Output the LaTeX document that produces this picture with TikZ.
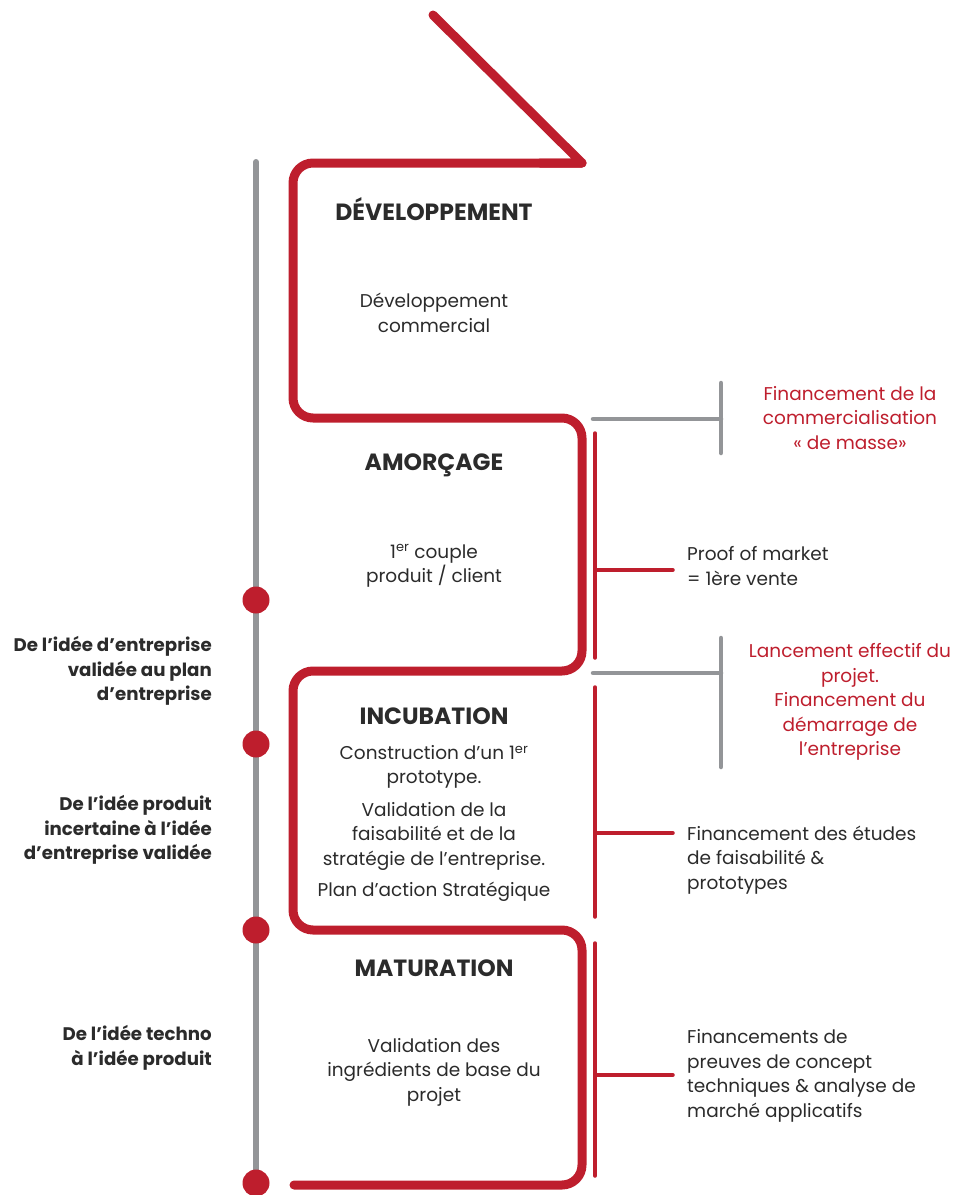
\documentclass[tikz,border=0pt]{standalone}
\usepackage{fontspec}
\setmainfont{Poppins}
\usepackage{tikz}
\usetikzlibrary{backgrounds}

\definecolor{jalonred}{HTML}{BE1E2D}
\definecolor{jalongray}{HTML}{939598}
\definecolor{jalontext}{HTML}{2B2B2B}

\tikzset{
  parcours/.style={draw=jalonred, line width=9pt, line cap=round, line join=round},
  timeline/.style={draw=jalongray, line width=6pt, line cap=round},
  grisbar/.style={draw=jalongray, line width=4.5pt, line cap=round},
  rougebar/.style={draw=jalonred, line width=3.5pt, line cap=round},
  jalon/.style={circle, fill=jalonred, minimum size=27pt, inner sep=0pt},
  etape/.style={font=\fontsize{23.5}{28}\selectfont\bfseries, text=jalontext, inner sep=0pt},
  corps/.style={font=\fontsize{18.5}{24.5}\selectfont, text=jalontext, align=center, inner sep=0pt},
  phase/.style={font=\fontsize{18.2}{24.5}\selectfont\bfseries, text=jalontext, align=right, anchor=east, inner sep=0pt},
  finance/.style={font=\fontsize{18.5}{24.5}\selectfont, text=jalontext, align=left, anchor=west, inner sep=0pt},
  alerte/.style={font=\fontsize{18.5}{24.5}\selectfont, text=jalonred, align=center, inner sep=0pt}
}

\begin{document}
\begin{tikzpicture}[x=1pt, y=-1pt]
\useasboundingbox (0,0) rectangle (963,1195);

% ligne du temps
\coordinate (tltop) at (256,162);
\node[jalon] (j1) at (256,600) {};
\node[jalon] (j2) at (256,744) {};
\node[jalon] (j3) at (256,930) {};
\node[jalon] (j4) at (256,1183) {};
\begin{scope}[on background layer]
  \draw[timeline] (tltop) -- (j4.center);
\end{scope}

% parcours rouge
\draw[parcours] (433,15) -- (582,163) -- (540,163);
\draw[parcours, rounded corners=20pt] (582,163) -- (293,163) -- (293,418) -- (582,418)
  -- (582,671) -- (293,671) -- (293,930) -- (582,930) -- (582,1185) -- (294,1185);

% etapes
\node[etape] (dev) at (434,209) {DÉVELOPPEMENT};
\node[corps] (devtxt) at (434,313) {Développement\\commercial};
\node[etape] (amo) at (434,465) {AMORÇAGE};
\node[corps] (amotxt) at (434,566) {1\textsuperscript{er} couple\\produit / client};
\node[etape] (inc) at (434,716) {INCUBATION};
\node[corps, anchor=north] (inctxt) at (434,745) {Construction d’un 1\textsuperscript{er}\\prototype.\\[8pt]
  Validation de la\\faisabilité et de la\\stratégie de l’entreprise.\\[7pt]Plan d’action Stratégique};
\node[etape] (mat) at (434,968) {MATURATION};
\node[corps] (mattxt) at (434,1072) {Validation des\\ingrédients de base du\\projet};

% phases a gauche
\node[phase] (ph1) at (212,671) {De l’idée d’entreprise\\validée au plan\\d’entreprise};
\node[phase] (ph2) at (212,830) {De l’idée produit\\incertaine à l’idée\\d’entreprise validée};
\node[phase] (ph3) at (212,1048) {De l’idée techno\\à l’idée produit};

% financements
\coordinate (g1) at (593,419);
\coordinate (g1v) at (721,419);
\draw[grisbar] (g1) -- (g1v);
\draw[grisbar] (721,383) -- (721,453);
\node[alerte] (fmasse) at (850,418) {Financement de la\\commercialisation\\« de masse»};

\draw[rougebar] (595,433) -- (595,658);
\coordinate (r1) at (595,570);
\node[finance] (proof) at (687,566) {Proof of market\\= 1ère vente};
\draw[rougebar] (r1) -- ([xshift=-14pt]r1 -| proof.west);

\coordinate (g2) at (593,673);
\coordinate (g2v) at (721,673);
\draw[grisbar] (g2) -- (g2v);
\draw[grisbar] (721,638) -- (721,767);
\node[alerte] (flance) at (850,702) {Lancement effectif du\\projet.\\Financement du\\démarrage de\\l’entreprise};

\draw[rougebar] (595,687) -- (595,917);
\coordinate (r2) at (595,833);
\node[finance] (fetude) at (687,860) {Financement des études\\de faisabilité \&\\prototypes};
\draw[rougebar] (r2) -- ([xshift=-14pt]r2 -| fetude.west);

\draw[rougebar] (595,943) -- (595,1176);
\coordinate (r3) at (595,1075);
\node[finance] (fpreuve) at (687,1076) {Financements de\\preuves de concept\\techniques \& analyse de\\marché applicatifs};
\draw[rougebar] (r3) -- ([xshift=-14pt]r3 -| fpreuve.west);
\end{tikzpicture}
\end{document}
